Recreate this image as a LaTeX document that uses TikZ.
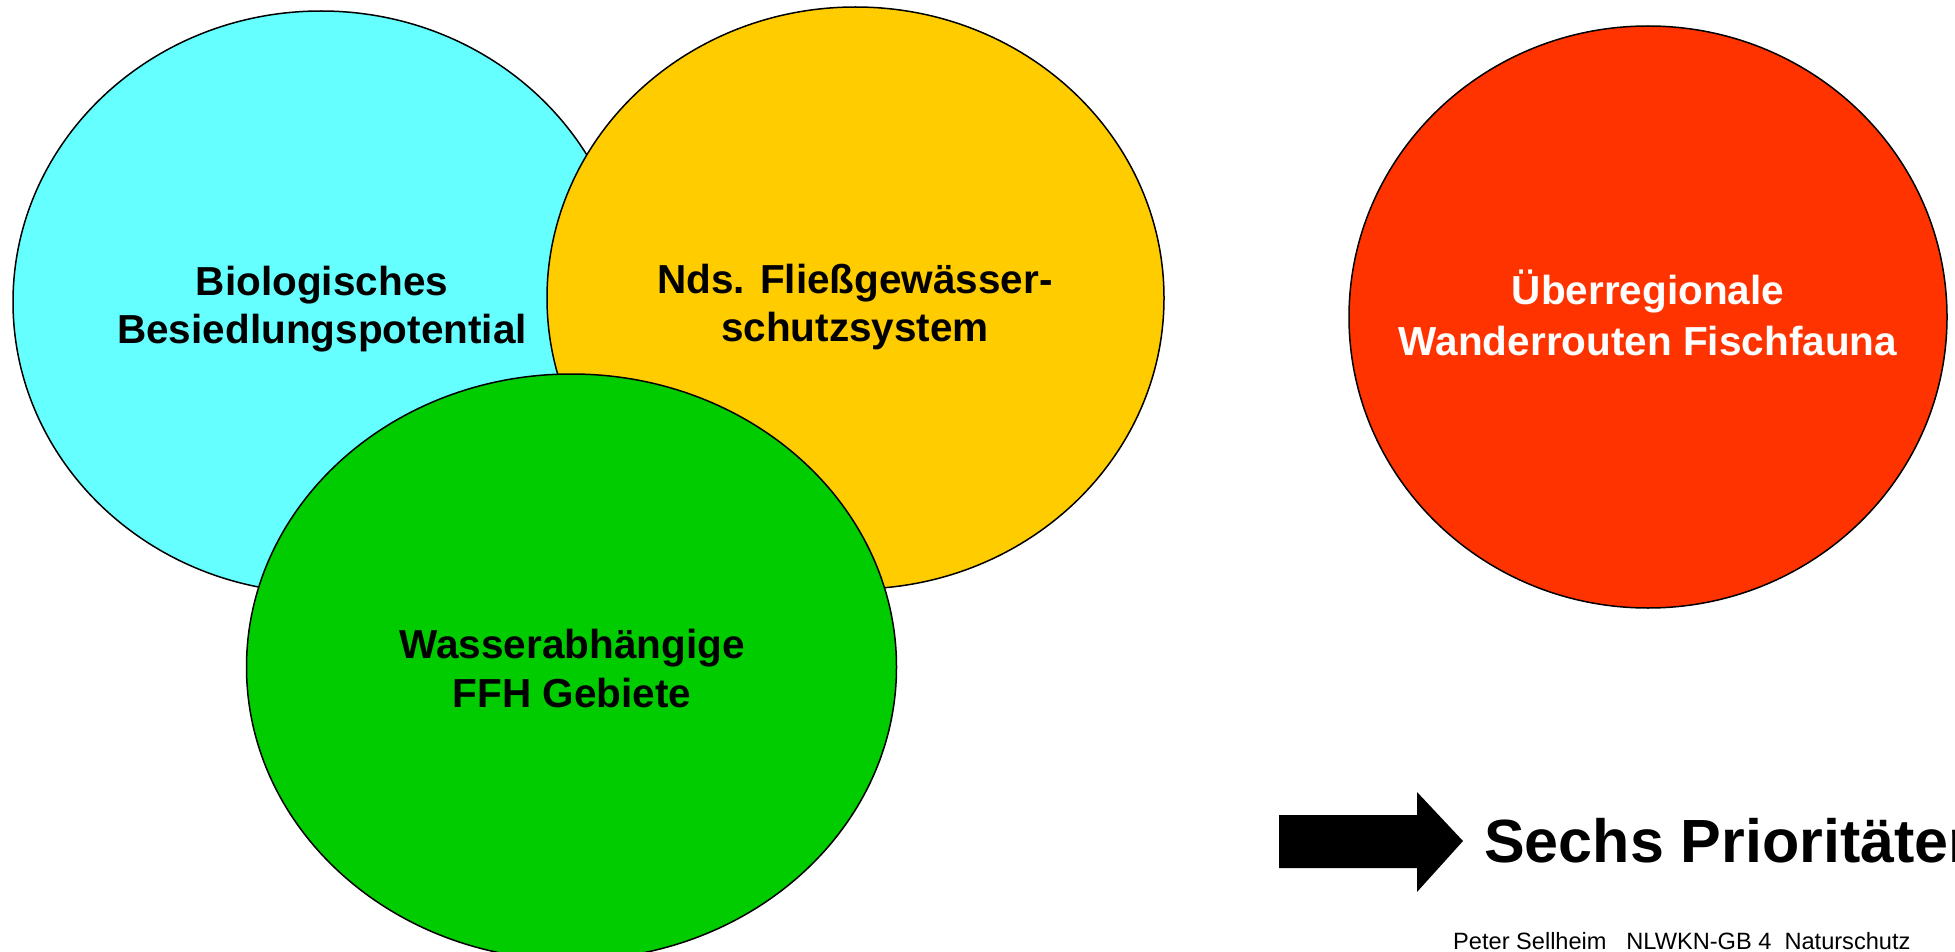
\documentclass[tikz,border=0pt]{standalone}
\usepackage{fontspec}
\setmainfont{Liberation Sans}
\usetikzlibrary{shapes.geometric}
\definecolor{bioc}{HTML}{66FFFF}
\definecolor{ndsc}{HTML}{FFCC00}
\definecolor{ffhc}{HTML}{00CC00}
\definecolor{wanc}{HTML}{FF3300}
\begin{document}
\begin{tikzpicture}[x=1pt,y=-1pt,
  blob/.style={ellipse, draw=black, line width=1.5pt, inner sep=0pt},
  lbl/.style={font=\fontsize{40.5}{49}\selectfont\bfseries, inner sep=0pt, anchor=base},
  big/.style={font=\fontsize{61}{70}\selectfont\bfseries, inner sep=0pt, anchor=base west},
  foot/.style={font=\fontsize{23.6}{28}\selectfont, inner sep=0pt, anchor=base west}]
\useasboundingbox (0,0) rectangle (1955,952);
\fill[white] (0,0) rectangle (1955,952);
% ellipses
\node[blob, fill=bioc, minimum width=616pt, minimum height=582pt] (bio) at (321,302) {};
\node[blob, fill=ndsc, minimum width=617pt, minimum height=582pt] (nds) at (855.5,298) {};
\node[blob, fill=ffhc, minimum width=650pt, minimum height=586pt] (ffh) at (571.5,667) {};
\node[blob, fill=wanc, minimum width=598pt, minimum height=582pt] (wan) at (1648,317) {};
% labels
\node[lbl] (bio1) at (322,295) {Biologisches};
\node[lbl] (bio2) at (322,343) {Besiedlungspotential};
\node[lbl] (nds1) at (855,293) {Nds. Fließgewässer-};
\node[lbl] (nds2) at (855,341) {schutzsystem};
\node[lbl] (ffh1) at (572,658) {Wasserabhängige};
\node[lbl] (ffh2) at (572,707) {FFH Gebiete};
\node[lbl, text=white] (wan1) at (1648,305) {Überregionale};
\node[lbl, text=white] (wan2) at (1648,355) {Wanderrouten Fischfauna};
% arrow
\fill[black] (1279,815) -- (1417,815) -- (1417,792) -- (1463,841) -- (1417,892) -- (1417,868) -- (1279,868) -- cycle;
\node[big] (prio) at (1484,862) {Sechs Prioritäten};
\node[foot] (footer) at (1453,949) {Peter Sellheim\ \ \ NLWKN-GB~4\ \ Naturschutz};
\end{tikzpicture}
\end{document}
